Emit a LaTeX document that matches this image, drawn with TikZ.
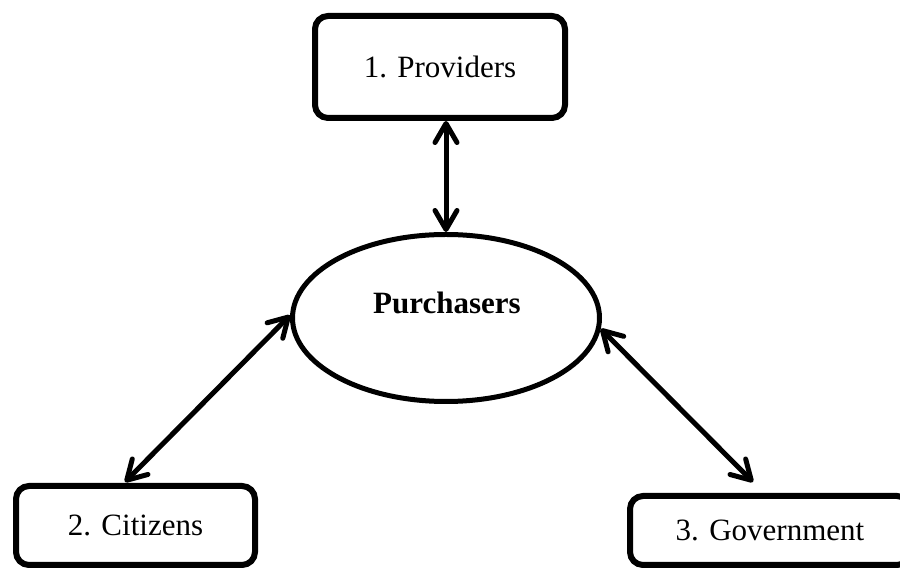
\documentclass[tikz,border=0pt]{standalone}
\usepackage{fontspec}
\setmainfont{Liberation Serif}
\usetikzlibrary{arrows.meta,shapes.geometric}
\begin{document}
\begin{tikzpicture}[x=1pt,y=1pt,
  box/.style={draw=black,line width=6pt,rounded corners=13pt,inner sep=0pt,
    font=\fontsize{31}{36}\selectfont},
  oval/.style={draw=black,ellipse,line width=5pt,inner sep=0pt},
  tip/.style={Straight Barb[length=19pt,width=22pt,round]},
  link/.style={line width=5pt,{Straight Barb[length=19pt,width=22pt,round]}-{Straight Barb[length=19pt,width=22pt,round]}}]
\useasboundingbox (0,0) rectangle (900,570);
\node[box,minimum width=250pt,minimum height=102pt] (prov) at (440,503) {1. Providers};
\node[box,minimum width=239pt,minimum height=79pt] (cit) at (135.5,44.5) {2. Citizens};
\node[box,minimum width=280pt,minimum height=69pt] (gov) at (770,39.5) {3. Government};
\node[oval,minimum width=307pt,minimum height=167pt] (pur) at (446,252) {};
\node[font=\fontsize{31}{36}\selectfont\bfseries] (purtxt) at (447,267) {Purchasers};
\coordinate (citend) at (125,88);
\coordinate (govend) at (753,88);
\draw[link] (pur.north |- prov.south) -- (pur.north);
\draw[link] (pur.179) -- (citend);
\draw[link] (pur.-4) -- (govend);
\end{tikzpicture}
\end{document}
